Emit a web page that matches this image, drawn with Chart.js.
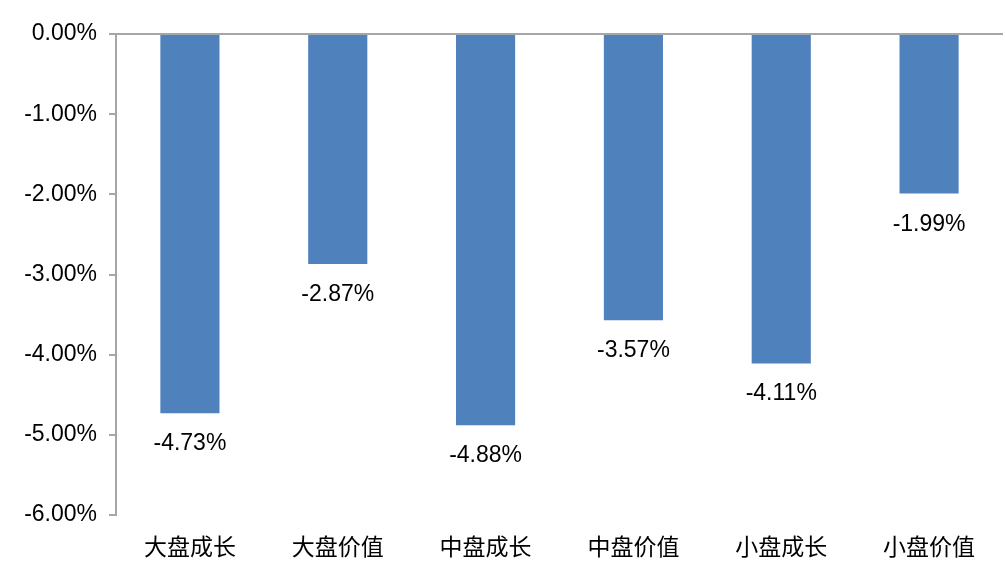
<!DOCTYPE html>
<html>
<head>
<meta charset="utf-8">
<script src="https://cdn.jsdelivr.net/npm/chart.js@4/dist/chart.umd.min.js"></script>
<style>
  html, body { margin: 0; padding: 0; background: #fff; }
</style>
</head>
<body>
<canvas id="chart" width="1005" height="570"></canvas>
<script>
const categories = ['大盘成长', '大盘价值', '中盘成长', '中盘价值', '小盘成长', '小盘价值']
const returns = [-4.73, -2.87, -4.88, -3.57, -4.11, -1.99]
const yTicks = [0, -1, -2, -3, -4, -5, -6]

const axisGray = '#a6a6a6'
const latin = '"Liberation Sans", Arial, sans-serif'

// 柱子下方的数值标签
const barLabels = {
    id: 'barLabels',
    afterDatasetsDraw(chart) {
        const ctx = chart.ctx
        const meta = chart.getDatasetMeta(0)
        ctx.save()
        ctx.font = '23px ' + latin
        ctx.fillStyle = '#000'
        ctx.textAlign = 'center'
        ctx.textBaseline = 'alphabetic'
        meta.data.forEach((bar, i) => {
            ctx.fillText(returns[i].toFixed(2) + '%', bar.x, bar.y + 37)
        })
        ctx.restore()
    }
}

const ctx = document.getElementById('chart').getContext('2d')
new Chart(ctx, {
    type: 'bar',
    data: {
        labels: categories,
        datasets: [{
            data: returns,
            backgroundColor: '#4f81bd',
            borderWidth: 0,
            categoryPercentage: 1,
            barPercentage: 0.4
        }]
    },
    options: {
        responsive: false,
        animation: false,
        layout: { padding: { top: 34, right: 2, left: 0, bottom: 0 } },
        plugins: { legend: { display: false }, tooltip: { enabled: false } },
        scales: {
            x: {
                grid: { display: false, drawTicks: false },
                border: { display: false },
                ticks: {
                    padding: 17,
                    color: '#000',
                    font: { family: '"Noto Sans CJK SC", sans-serif', size: 23 }
                },
                afterFit: s => { s.height = 55 }
            },
            y: {
                min: -6,
                max: 0,
                afterBuildTicks: s => { s.ticks = yTicks.map(v => ({ value: v })) },
                grid: {
                    color: c => c.tick && c.tick.value === 0 ? axisGray : 'transparent',
                    tickColor: axisGray,
                    tickLength: 7,
                    lineWidth: 2
                },
                border: { display: true, color: axisGray, width: 2 },
                ticks: {
                    padding: 12,
                    color: '#000',
                    font: { family: latin, size: 23 },
                    callback: v => v.toFixed(2) + '%'
                },
                afterFit: s => { s.width = 116 }
            }
        }
    },
    plugins: [barLabels]
})
</script>
</body>
</html>
